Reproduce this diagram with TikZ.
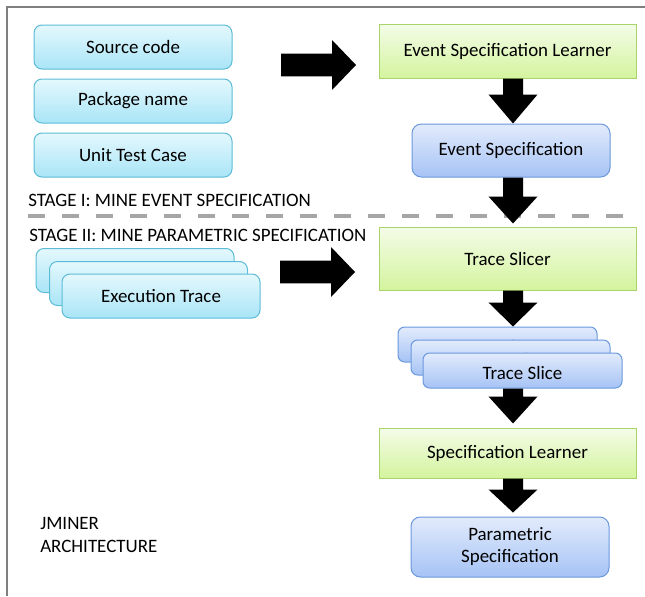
\documentclass[tikz,border=0pt]{standalone}
\usepackage{fontspec}
\setmainfont{Carlito}
\usetikzlibrary{calc}

\definecolor{cyantop}{HTML}{E4F8FD}
\definecolor{cyanbot}{HTML}{A9E5F7}
\definecolor{cyanedge}{HTML}{5CBCD6}
\definecolor{greentop}{HTML}{F4FCE8}
\definecolor{greenbot}{HTML}{D4F49E}
\definecolor{greenedge}{HTML}{A9D46C}
\definecolor{bluetop}{HTML}{E2EBFC}
\definecolor{bluebot}{HTML}{A6C3F5}
\definecolor{blueedge}{HTML}{6A98DC}
\definecolor{framegray}{HTML}{7F7F7F}
\definecolor{dashgray}{HTML}{A6A6A6}

% Fat block arrow pointing down: #1 start, #2 tip, #3 head length (px)
\newcommand{\fatdown}[3]{%
  \fill[black] let \p1=(#1), \p2=(#2) in
    (\x1-7.5pt,\y1) -- (\x1+7.5pt,\y1) -- (\x1+7.5pt,\y2+#3*0.75pt)
    -- (\x1+18.4pt,\y2+#3*0.75pt) -- (\x1,\y2) -- (\x1-18.4pt,\y2+#3*0.75pt)
    -- (\x1-7.5pt,\y2+#3*0.75pt) -- cycle;}
% Fat block arrow pointing right: #1 start, #2 tip
\newcommand{\fatright}[2]{%
  \fill[black] let \p1=(#1), \p2=(#2) in
    (\x1,\y1+8.6pt) -- (\x2-18pt,\y1+8.6pt) -- (\x2-18pt,\y1+18.75pt)
    -- (\x2,\y1) -- (\x2-18pt,\y1-18.75pt) -- (\x2-18pt,\y1-8.6pt)
    -- (\x1,\y1-8.6pt) -- cycle;}

\tikzset{
  lbl/.style={font=\fontsize{14.2pt}{16.5pt}\selectfont, text=black},
  cyanbox/.style={lbl, rounded corners=6pt, draw=cyanedge, line width=0.75pt,
    top color=cyantop, bottom color=cyanbot,
    minimum width=148.5pt, minimum height=33pt, inner sep=0pt},
  greenbox/.style={lbl, draw=greenedge, line width=0.75pt,
    top color=greentop, bottom color=greenbot,
    minimum width=192.75pt, inner sep=0pt},
  bluebox/.style={lbl, rounded corners=7pt, draw=blueedge, line width=0.75pt,
    top color=bluetop, bottom color=bluebot,
    minimum width=148.5pt, inner sep=0pt, align=center},
  slicebox/.style={bluebox, rounded corners=5pt, minimum width=149.25pt,
    minimum height=26.25pt, text height=13.6pt, text depth=0pt},
  stagetext/.style={lbl, anchor=west, inner sep=0pt}
}

\begin{document}
\begin{tikzpicture}[x=0.75pt, y=-0.75pt]
\useasboundingbox (0,0) rectangle (645,596);
\fill[white] (0,0) rectangle (645,596);

% outer frame (top and left edges)
\draw[framegray, line width=1.5pt] (645,7) -- (7,7) -- (7,596);

% stage I inputs
\node[cyanbox] (src) at (133,47)  {Source code};
\node[cyanbox] (pkg) at (133,101) {Package name};
\node[cyanbox] (utc) at (133,155) {Unit Test Case};

% stage I pipeline
\node[greenbox, minimum height=40.5pt] (esl) at (507.5,51) {Event Specification Learner};
\node[bluebox, minimum height=39.75pt] (es) at (511,150.5) {Event Specification};

% stage labels and separator
\node[stagetext] (st1) at (28,200) {STAGE I: MINE EVENT SPECIFICATION};
\draw[dashgray, line width=3pt, dash pattern=on 12.75pt off 12.75pt]
  (28,215.5) -- (637,215.5);
\node[stagetext] (st2) at (29,235) {STAGE II: MINE PARAMETRIC SPECIFICATION};

% stage II inputs: stacked execution traces
\node[cyanbox] (et3) at (135,270.5) {};
\node[cyanbox] (et2) at (148.5,283.5) {};
\node[cyanbox] (et)  at (161,296) {Execution Trace};

% stage II pipeline
\node[greenbox, minimum height=47.25pt] (ts) at (507.5,258.5) {Trace Slicer};
\node[slicebox] (sl3) at (497.5,344.5) {Trace Slice};
\node[slicebox] (sl2) at (510.5,357.5) {Trace Slice};
\node[slicebox] (sl1) at (522.5,370.5) {Trace Slice};
\node[greenbox, minimum height=37.5pt] (sl) at (507.5,453) {Specification Learner};
\node[bluebox, minimum height=45pt] (ps) at (510,547) {Parametric\\Specification};

% caption
\node[lbl, anchor=west, align=left, inner sep=0pt] (cap) at (40,535)
  {JMINER\\[1.2pt]ARCHITECTURE};

% arrow axis and free arrow ends
\coordinate (axis) at (513,0);
\coordinate (r1s) at (281,65);
\coordinate (r1e) at (356,65);
\coordinate (r2s) at (280,272);
\coordinate (r2e) at (355,272);

% horizontal block arrows
\fatright{r1s}{r1e}
\fatright{r2s}{r2e}

% vertical block arrows
\fatdown{esl.south -| axis}{es.north -| axis}{29}
\fatdown{es.south -| axis}{$(ts.north -| axis)+(0,-3)$}{27}
\fatdown{ts.south -| axis}{sl3.north -| axis}{24}
\fatdown{sl1.south -| axis}{$(sl.north -| axis)+(0,-4)$}{27}
\fatdown{sl.south -| axis}{$(ps.north -| axis)+(0,-4)$}{23}
\end{tikzpicture}
\end{document}
